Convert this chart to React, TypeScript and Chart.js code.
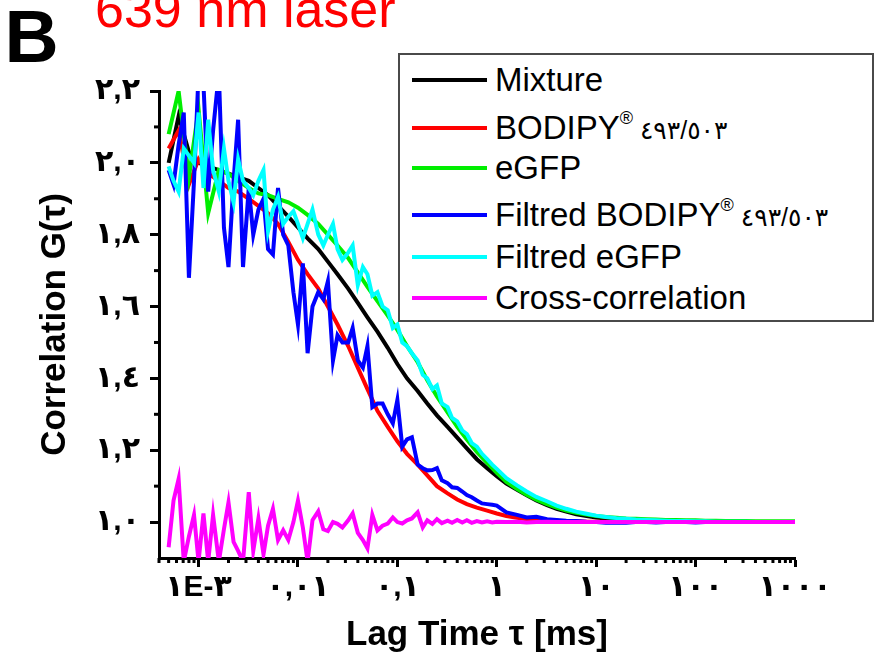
import React, { useEffect, useRef } from "react";
import { Chart, registerables } from "chart.js";

Chart.register(...registerables);

const FONT = "'Liberation Sans', Arial, 'DejaVu Sans', sans-serif";

// Lag time tau [ms] for the smooth curves
const TAU = [
  0.0005, 0.00063, 0.0008, 0.001, 0.00125, 0.0016, 0.002, 0.0025, 0.0032, 0.004,
  0.005, 0.0063, 0.008, 0.01, 0.0125, 0.016, 0.02, 0.025, 0.032, 0.04,
  0.05, 0.063, 0.08, 0.1, 0.125, 0.16, 0.2, 0.25, 0.32, 0.4,
  0.5, 0.63, 0.8, 1, 1.25, 1.6, 2, 2.5, 3.2, 4,
  5, 6.3, 8, 10, 12.5, 16, 20, 25, 32, 40,
  50, 63, 80, 100, 125, 160, 200, 250, 320, 400,
  500, 630, 800, 1000,
];

// Lag time tau [ms] for the noisy (filtered / cross) curves
const TAU_FINE = [
  0.0005, 0.00056, 0.00063, 0.00071, 0.0008, 0.0009,
  0.001, 0.00112, 0.00125, 0.0014, 0.0016, 0.0018, 0.002, 0.00225, 0.0025, 0.0028,
  0.0032, 0.00355, 0.004, 0.0045, 0.005, 0.0056, 0.0063, 0.0071, 0.008, 0.009,
  0.01, 0.0112, 0.0125, 0.014, 0.016, 0.018, 0.02, 0.0225, 0.025, 0.028,
  0.032, 0.0355, 0.04, 0.045, 0.05, 0.056, 0.063, 0.071, 0.08, 0.09,
  0.1, 0.112, 0.125, 0.14, 0.16, 0.18, 0.2, 0.225, 0.25, 0.28,
  0.32, 0.355, 0.4, 0.45, 0.5, 0.56, 0.63, 0.71, 0.8, 0.9,
  1,
  1.25, 1.6, 2, 2.5, 3.2, 4, 5, 6.3, 8,
  10, 12.5, 16, 20, 25, 32, 40, 50, 63, 80,
  100, 125, 160, 200, 250, 320, 400, 500, 630, 800,
  1000,
];

const MIXTURE = [
  2.0, 2.13, 2.03, 2.0, 1.99, 1.98, 1.97, 1.96, 1.95, 1.93,
  1.91, 1.88, 1.85, 1.82, 1.79, 1.76, 1.725, 1.69, 1.65, 1.61,
  1.57, 1.53, 1.485, 1.44, 1.4, 1.365, 1.33, 1.297, 1.265, 1.235,
  1.205, 1.175, 1.15, 1.128, 1.107, 1.09, 1.075, 1.06, 1.047, 1.037,
  1.029, 1.022, 1.017, 1.013, 1.01, 1.008, 1.006, 1.005, 1.004, 1.003,
  1.003, 1.002, 1.002, 1.001, 1.001, 1.001, 1.001, 1.0, 1.0, 1.0,
  1.0, 1.0, 1.0, 1.0,
];

const BODIPY = [
  2.04, 2.09, 1.94, 2.01, 1.97, 1.95, 1.93, 1.92, 1.9, 1.88,
  1.86, 1.83, 1.78, 1.73, 1.69, 1.65, 1.6, 1.55, 1.49, 1.43,
  1.37, 1.31, 1.265, 1.225, 1.19, 1.16, 1.13, 1.1, 1.08, 1.063,
  1.05, 1.04, 1.032, 1.024, 1.017, 1.012, 1.008, 1.006, 1.004, 1.003,
  1.002, 1.002, 1.001, 1.001, 1.001, 1.0, 1.0, 1.0, 1.0, 1.0,
  1.0, 1.0, 1.0, 1.0, 1.0, 1.0, 1.0, 1.0, 1.0, 1.0,
  1.0, 1.0, 1.0, 1.0,
];

const EGFP = [
  2.08, 2.2, 1.96, 2.15, 1.86, 1.98, 1.97, 1.95, 1.93, 1.915,
  1.91, 1.9, 1.89, 1.875, 1.855, 1.83, 1.8, 1.77, 1.735, 1.695,
  1.655, 1.615, 1.575, 1.535, 1.49, 1.445, 1.395, 1.35, 1.305, 1.265,
  1.23, 1.195, 1.165, 1.137, 1.112, 1.092, 1.076, 1.062, 1.05, 1.04,
  1.032, 1.026, 1.021, 1.017, 1.014, 1.012, 1.01, 1.009, 1.008, 1.007,
  1.006, 1.006, 1.005, 1.005, 1.004, 1.004, 1.003, 1.003, 1.003, 1.002,
  1.002, 1.002, 1.002, 1.002,
];

const FILTRED_BODIPY = [
  1.98, 1.94, 2.05, 2.14, 1.68, 1.95, 2.25, 2.22, 1.92, 2.09,
  2.25, 1.82, 1.71, 1.95, 2.12, 1.71, 1.93, 1.8, 1.87, 1.9,
  1.76, 1.745, 1.93, 1.8, 1.77, 1.64, 1.55, 1.72, 1.47, 1.6,
  1.64, 1.62, 1.67, 1.45, 1.52, 1.5, 1.5, 1.54, 1.45, 1.43,
  1.49, 1.32, 1.33, 1.33, 1.3, 1.275, 1.34, 1.21, 1.23, 1.236,
  1.16, 1.15, 1.144, 1.145, 1.15, 1.116, 1.108, 1.097, 1.095, 1.085,
  1.075, 1.069, 1.06, 1.052, 1.05, 1.048, 1.046,
  1.027, 1.02, 1.013, 1.015, 1.008, 1.006, 1.004, 1.003, 1.001, 1.0,
  0.998, 0.999, 0.998, 1.0, 1.0, 0.999, 1.0, 1.0, 1.0, 0.999,
  1.0, 1.0, 1.0, 1.0, 1.0, 1.0, 1.0, 1.0, 1.0, 1.0,
];

const FILTRED_EGFP = [
  1.99, 1.95, 1.92, 2.04, 2.02, 2.0, 2.14, 1.93, 2.12, 1.98,
  1.92, 2.04, 1.95, 1.89, 2.01, 1.95, 1.93, 1.91, 1.95, 1.98,
  1.81, 1.87, 1.905, 1.83, 1.85, 1.865, 1.83, 1.79, 1.83, 1.87,
  1.8, 1.77, 1.8, 1.83, 1.76, 1.73, 1.75, 1.77, 1.66, 1.71,
  1.69, 1.63, 1.64, 1.6, 1.59, 1.54, 1.55, 1.5, 1.49, 1.47,
  1.45, 1.41, 1.4, 1.37, 1.38, 1.33, 1.32, 1.29, 1.28, 1.255,
  1.245, 1.22, 1.21, 1.19, 1.175, 1.16, 1.148,
  1.122, 1.102, 1.085, 1.07, 1.058, 1.046, 1.037, 1.029, 1.023, 1.018,
  1.014, 1.011, 1.009, 1.007, 1.006, 1.005, 1.004, 1.003, 1.003, 1.002,
  1.002, 1.001, 1.001, 1.001, 1.001, 1.0, 1.0, 1.0, 1.0, 1.0,
];

const CROSS = [
  0.93, 1.06, 1.12, 0.89, 0.96, 1.02, 0.89, 1.024, 0.89, 1.02,
  0.89, 0.98, 1.055, 0.945, 0.92, 0.89, 1.083, 0.92, 1.01, 0.91,
  0.99, 1.037, 0.95, 0.977, 0.95, 1.0, 1.06, 0.985, 0.89, 1.005,
  1.03, 0.98, 0.975, 1.0, 0.995, 0.985, 1.005, 1.024, 0.97, 0.95,
  0.927, 1.02, 0.977, 0.99, 0.996, 1.013, 1.0, 0.996, 1.005, 1.01,
  1.027, 0.985, 1.005, 0.995, 1.008, 0.997, 1.004, 0.998, 1.006, 0.999,
  1.005, 0.998, 1.003, 0.999, 1.002, 0.999, 1.001,
  1.0, 1.001, 0.999, 1.0, 1.001, 1.0, 1.0, 1.0, 1.0, 1.0,
  1.0, 1.0, 1.0, 1.0, 1.0, 1.0, 1.0, 1.0, 1.0, 1.0,
  1.0, 1.0, 1.0, 1.0, 1.0, 1.0, 1.0, 1.0, 1.0, 1.0,
];

const SERIES_LABELS = [
  "Mixture",
  "BODIPY® ٤٩٣/٥٠٣",
  "eGFP",
  "Filtred BODIPY® ٤٩٣/٥٠٣",
  "Filtred eGFP",
  "Cross-correlation",
];
const SERIES_COLORS = ["#000000", "#ff0000", "#00ee00", "#0000ff", "#00ffff", "#ff00ff"];
const SERIES_VALUES = [MIXTURE, BODIPY, EGFP, FILTRED_BODIPY, FILTRED_EGFP, CROSS];
const SERIES_TAU = [TAU, TAU, TAU, TAU_FINE, TAU_FINE, TAU_FINE];

const Y_TICKS = [1.0, 1.2, 1.4, 1.6, 1.8, 2.0, 2.2];
const Y_TICK_LABELS = ["١,٠", "١,٢", "١,٤", "١,٦", "١,٨", "٢,٠", "٢,٢"];
const Y_MINOR = [1.1, 1.3, 1.5, 1.7, 1.9, 2.1];
const X_TICKS = [0.001, 0.01, 0.1, 1, 10, 100, 1000];
const X_TICK_LABELS = ["١E-٣", "٠,٠١", "٠,١", "١", "١٠", "١٠٠", "١٠٠٠"];
const X_MINOR_DECADES = [0.0001, 0.001, 0.01, 0.1, 1, 10, 100];
const X_MINOR_MULT = [2, 3, 4, 5, 6, 7, 8, 9];

const TITLE = "639 nm laser";
const PANEL = "B";
const X_TITLE = "Lag Time τ [ms]";
const Y_TITLE = "Correlation G(τ)";

const minorTicks = {
  id: "minorTicks",
  afterDraw(chart: any) {
    const { ctx, chartArea } = chart;
    const xs = chart.scales.x;
    const ys = chart.scales.y;
    ctx.save();
    ctx.strokeStyle = "#000";
    ctx.lineWidth = 3;
    ctx.lineCap = "butt";
    for (const v of Y_MINOR) {
      const py = ys.getPixelForValue(v);
      ctx.beginPath();
      ctx.moveTo(chartArea.left - 5, py);
      ctx.lineTo(chartArea.left, py);
      ctx.stroke();
    }
    for (const d of X_MINOR_DECADES) {
      for (const m of X_MINOR_MULT) {
        const v = d * m;
        if (v < xs.min || v > xs.max) continue;
        const px = xs.getPixelForValue(v);
        ctx.beginPath();
        ctx.moveTo(px, chartArea.bottom);
        ctx.lineTo(px, chartArea.bottom + 5);
        ctx.stroke();
      }
    }
    ctx.restore();
  },
};

function LegendLabel({ text }: { text: string }) {
  const parts = text.split("®");
  if (parts.length < 2) return <span>{text}</span>;
  return (
    <span>
      {parts[0]}
      <span style={{ fontSize: 18, position: "relative", top: -15 }}>®</span>
      <span style={{ fontSize: 25 }}>{parts[1]}</span>
    </span>
  );
}

const ROW_CENTERS = [79.5, 127.5, 167.5, 215, 256.5, 297.5];

export default function App() {
  const ref = useRef<HTMLCanvasElement | null>(null);

  useEffect(() => {
    if (!ref.current) return;
    const datasets = SERIES_VALUES.map((vals, si) => ({
      label: SERIES_LABELS[si],
      data: SERIES_TAU[si].map((t, i) => ({ x: t, y: vals[i] })),
      borderColor: SERIES_COLORS[si],
      backgroundColor: SERIES_COLORS[si],
      borderWidth: 4,
      pointRadius: 0,
      tension: 0,
      fill: false,
      order: SERIES_VALUES.length - si,
    }));
    const chart = new Chart(ref.current, {
      type: "line",
      data: { datasets },
      options: {
        animation: false,
        responsive: false,
        maintainAspectRatio: false,
        devicePixelRatio: 1,
        layout: { padding: { left: 0, top: 91, right: 80, bottom: 0 } },
        plugins: {
          legend: { display: false },
          title: { display: false },
          tooltip: { enabled: false },
        },
        scales: {
          x: {
            type: "logarithmic",
            min: 0.0004,
            max: 1000,
            afterBuildTicks: (s: any) => {
              s.ticks = X_TICKS.map((v) => ({ value: v, major: true }));
            },
            afterFit: (s: any) => {
              s.height = 98;
            },
            ticks: {
              callback: (_v: any, i: number) => X_TICK_LABELS[i],
              font: { family: FONT, size: 30, weight: "bold" },
              color: "#000",
              padding: 3,
              maxRotation: 0,
              autoSkip: false,
            },
            grid: {
              drawOnChartArea: false,
              drawTicks: true,
              tickLength: 9,
              tickWidth: 3,
              tickColor: "#000",
            },
            border: { display: true, width: 3, color: "#000" },
            title: {
              display: true,
              text: X_TITLE,
              font: { family: FONT, size: 35, weight: "bold" },
              color: "#000",
              padding: { top: 0, bottom: 0 },
            },
          },
          y: {
            type: "linear",
            min: 0.9,
            max: 2.2,
            afterBuildTicks: (s: any) => {
              s.ticks = Y_TICKS.map((v) => ({ value: v }));
            },
            afterFit: (s: any) => {
              s.width = 159;
            },
            ticks: {
              callback: (_v: any, i: number) => Y_TICK_LABELS[i],
              font: { family: FONT, size: 30, weight: "bold" },
              color: "#000",
              padding: 10,
            },
            grid: {
              drawOnChartArea: false,
              drawTicks: true,
              tickLength: 9,
              tickWidth: 3,
              tickColor: "#000",
            },
            border: { display: true, width: 3, color: "#000" },
            title: {
              display: true,
              text: Y_TITLE,
              font: { family: FONT, size: 35, weight: "bold" },
              color: "#000",
              padding: { top: 34, bottom: 0 },
            },
          },
        },
      },
      plugins: [minorTicks],
    } as any);
    return () => chart.destroy();
  }, []);

  return (
    <div
      style={{
        position: "absolute",
        left: 0,
        top: 0,
        width: 875,
        height: 656,
        overflow: "hidden",
        background: "#fff",
        fontFamily: FONT,
      }}
    >
      <canvas
        ref={ref}
        width={875}
        height={656}
        style={{ position: "absolute", left: 0, top: 0, width: 875, height: 656 }}
      />
      <div
        style={{
          position: "absolute",
          left: 4.5,
          top: -1.5,
          fontSize: 75,
          lineHeight: "75px",
          fontWeight: "bold",
          color: "#000",
          whiteSpace: "nowrap",
        }}
      >
        {PANEL}
      </div>
      <div
        style={{
          position: "absolute",
          left: 95,
          top: -17,
          fontSize: 52,
          lineHeight: "52px",
          color: "#ff0000",
          whiteSpace: "nowrap",
        }}
      >
        {TITLE}
      </div>
      <div
        style={{
          position: "absolute",
          left: 398,
          top: 53,
          width: 476,
          height: 269,
          boxSizing: "border-box",
          border: "2px solid #4a4a4a",
          background: "#fff",
        }}
      >
        {SERIES_LABELS.map((lab, i) => (
          <React.Fragment key={lab}>
            <div
              style={{
                position: "absolute",
                left: 12,
                top: ROW_CENTERS[i] - 53 - 2 - 2,
                width: 75,
                height: 4,
                background: SERIES_COLORS[i],
              }}
            />
            <div
              style={{
                position: "absolute",
                left: 95,
                top: ROW_CENTERS[i] - 53 - 2 - 20,
                height: 40,
                display: "flex",
                alignItems: "center",
                fontSize: 33,
                color: "#000",
                whiteSpace: "nowrap",
              }}
            >
              <LegendLabel text={lab} />
            </div>
          </React.Fragment>
        ))}
      </div>
    </div>
  );
}
